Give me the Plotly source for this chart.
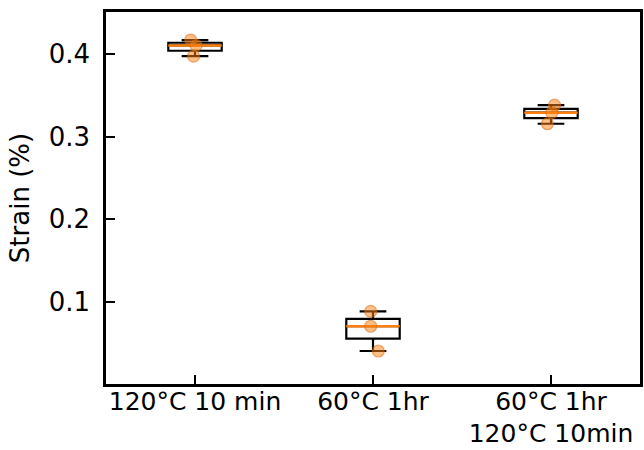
import numpy as np
import plotly.graph_objects as go

categories = ["120°C 10 min", "60°C 1hr", "60°C 1hr<br>120°C 10min"]
positions = [1, 2, 3]
strain_a = [0.417, 0.4105, 0.3975]
strain_b = [0.088, 0.0700, 0.0400]
strain_c = [0.338, 0.3290, 0.3155]
jitter_a = [-0.024, 0.006, -0.008]
jitter_b = [-0.013, -0.013, 0.030]
jitter_c = [0.020, 0.005, -0.020]

series = [strain_a, strain_b, strain_c]
jitters = [jitter_a, jitter_b, jitter_c]
box_w = 0.3
orange = "#ff7f0e"
FS = 26

fig = go.Figure()
for pos, vals in zip(positions, series):
    fig.add_trace(go.Box(
        x=[pos] * len(vals), y=vals, width=box_w, boxpoints=False,
        quartilemethod="inclusive", whiskerwidth=0.5,
        line=dict(color="black", width=2.2), fillcolor="rgba(255,255,255,0)",
        showlegend=False, hoverinfo="skip"))
for pos, vals in zip(positions, series):
    med = float(np.median(vals))
    fig.add_trace(go.Scatter(
        x=[pos - box_w / 2, pos + box_w / 2], y=[med, med], mode="lines",
        line=dict(color=orange, width=2.5), showlegend=False, hoverinfo="skip"))
for pos, vals, jit in zip(positions, series, jitters):
    fig.add_trace(go.Scatter(
        x=[pos + j for j in jit], y=vals, mode="markers",
        marker=dict(color="rgba(255,127,14,0.5)", size=12,
                    line=dict(color="rgba(210,100,10,0.5)", width=1.2)),
        showlegend=False, hoverinfo="skip"))

axis_common = dict(showline=True, linecolor="black", linewidth=2.5, mirror=True,
                   ticks="inside", ticklen=9, tickwidth=2, tickcolor="black",
                   showgrid=False, zeroline=False, automargin=False)
fig.update_xaxes(range=[0.5, 3.5], tickvals=positions, ticktext=categories,
                 ticklabelstandoff=-7,
                 tickfont=dict(family="DejaVu Sans", size=25, color="black"), **axis_common)
fig.update_yaxes(range=[0.0, 0.451], tickvals=[0.1, 0.2, 0.3, 0.4],
                 ticktext=["0.1", "0.2", "0.3", "0.4"], ticklabelstandoff=8,
                 tickfont=dict(family="DejaVu Sans", size=FS, color="black"),
                 title=dict(text="Strain (%)", font=dict(family="DejaVu Sans", size=FS, color="black"), standoff=12),
                 **axis_common)
fig.update_layout(width=644, height=450, margin=dict(l=106, r=4, t=12, b=66),
                  plot_bgcolor="white", paper_bgcolor="white",
                  font=dict(family="DejaVu Sans", size=FS, color="black"))
fig.write_html("out.html", config={"displayModeBar": False},
               post_script="document.body.style.margin='0';")
